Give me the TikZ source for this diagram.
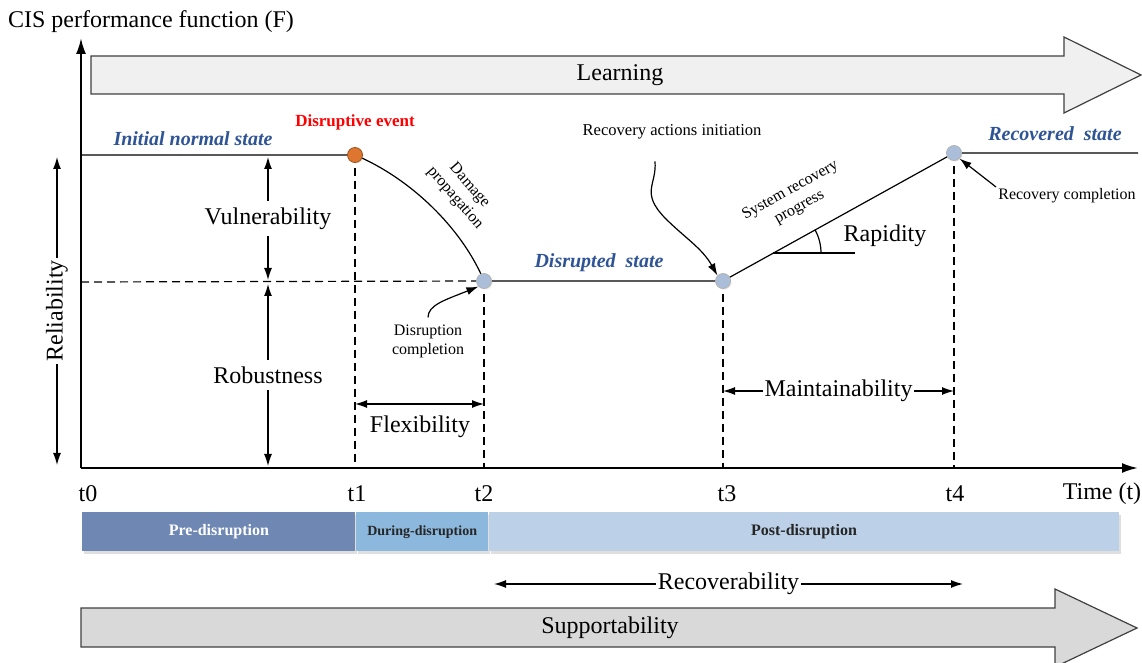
\documentclass[tikz,border=0pt]{standalone}
\usepackage{fontspec}
\setmainfont{Liberation Serif}
\usetikzlibrary{positioning,arrows.meta,shadows}

\definecolor{stateblue}{RGB}{47,84,150}
\definecolor{evorange}{RGB}{222,118,48}
\definecolor{dotblue}{RGB}{170,190,218}
\definecolor{preC}{RGB}{111,136,179}
\definecolor{duringC}{RGB}{139,184,220}
\definecolor{postC}{RGB}{188,209,232}

\begin{document}
\begin{tikzpicture}[x=0.5pt,y=-0.5pt,
	axis/.style = {line width=1.1pt, -{Latex[length=8pt,width=5pt]}},
	curve/.style = {line width=0.6pt},
	guide/.style = {line width=0.6pt, dash pattern=on 4pt off 2.5pt},
	dimarrow/.style = {line width=0.6pt, {Latex[length=6pt,width=4pt]}-{Latex[length=6pt,width=4pt]}},
	pointer/.style = {line width=0.6pt, -{Latex[length=6pt,width=4pt]}},
	dot/.style = {circle, inner sep=0pt, minimum size=7.5pt, draw=black!30, fill=dotblue,
		drop shadow={opacity=0.2, shadow xshift=0.5pt, shadow yshift=-0.5pt}},
	bigtxt/.style = {font=\fontsize{12}{14}\selectfont},
	smalltxt/.style = {font=\fontsize{8}{9.5}\selectfont, align=center},
	state/.style = {font=\fontsize{10}{12}\selectfont\bfseries\itshape, text=stateblue},
	phase/.style = {minimum height=19.5pt, inner sep=0pt, font=\fontsize{8}{9}\selectfont\bfseries,
		drop shadow={opacity=0.25, shadow xshift=0.8pt, shadow yshift=-1.2pt}},
	bigarrow/.style = {draw=black!75, line width=0.6pt}
	]
	\useasboundingbox (0,0) rectangle (1142,663);

	% main points of the curve
	\coordinate (o) at (81,468);
	\coordinate (ev) at (355,155);
	\coordinate (dc) at (484,281);
	\coordinate (ra) at (723,281);
	\coordinate (rc) at (954,153);

	% learning arrow
	\draw[bigarrow, fill=black!6] (91,56) -- (1064,56) -- (1064,37) -- (1141,75) -- (1064,113) -- (1064,94) -- (91,94) -- cycle;
	\node[bigtxt] (learn) at (620,75) {Learning};

	% axes
	\node[bigtxt] (ylabel) at (151,22) {CIS performance function (F)};
	\draw[axis] (o) -- (81,38);
	\draw[axis] (o) -- (1138,468);

	% dashed guides
	\draw[guide] (81,282) -- (dc);
	\draw[guide] (ev) -- (ev |- o);
	\draw[guide] (dc) -- (dc |- o);
	\draw[guide] (ra) -- (ra |- o);
	\draw[guide] (rc) -- (rc |- o);

	% performance curve
	\draw[curve] (81,155) -- (ev) .. controls (410,178) and (462,228) .. (dc) -- (ra) -- (rc) -- (1138,153);
	\node[dot, fill=evorange, draw=evorange!70!black] (evdot) at (ev) {};
	\node[dot] (dcdot) at (dc) {};
	\node[dot] (radot) at (ra) {};
	\node[dot] (rcdot) at (rc) {};

	% states and events
	\node[state] (initial) at (193,139) {Initial normal state};
	\node[font=\fontsize{8.5}{10}\selectfont\bfseries, text=red] (event) at (355,122) {Disruptive event};
	\node[smalltxt, rotate=-49] (damage) at (462,192) {Damage\\propagation};
	\node[state] (disrupted) at (599,263) {Disrupted\ \ state};
	\node[state] (recovered) at (1055,134) {Recovered\ \ state};
	\node[smalltxt, font=\fontsize{8.3}{9.5}\selectfont] (initiation) at (672,132) {Recovery actions initiation};
	\node[smalltxt, rotate=29] (progress) at (795,199) {System recovery\\progress};
	\node[smalltxt] (completion) at (1067,196) {Recovery completion};
	\node[smalltxt] (discomp) at (428,341) {Disruption\\completion};

	% pointers
	\draw[pointer] (initiation.south) ++(-17,15) .. controls (657,185) and (640,192) .. (665,218) .. controls (685,238) and (702,248) .. (radot.north west);
	\draw[pointer] (discomp.north) .. controls (428,305) and (445,300) .. (dcdot.south west);
	\draw[pointer] (996,187) -- (rcdot.south east);

	% rapidity angle
	\draw[curve] (773,253) -- (855,253);
	\draw[curve] (821,253) arc[start angle=0, end angle=-29, radius=48];
	\node[bigtxt] (rapidity) at (885,236) {Rapidity};

	% vertical measures
	\draw[dimarrow] (57,157) -- node[bigtxt, fill=white, rotate=90, inner sep=1pt] (reliab) {Reliability} (57,465);
	\draw[dimarrow] (268,157) -- node[bigtxt, fill=white, pos=0.5] (vuln) {Vulnerability} (268,280);
	\draw[dimarrow] (268,284) -- node[bigtxt, fill=white, pos=0.5] (robust) {Robustness} (268,466);

	% horizontal measures
	\draw[dimarrow] (355,404) -- (484,404);
	\node[bigtxt] (flex) at (420,427) {Flexibility};
	\draw[dimarrow] (723,391) -- node[bigtxt, fill=white, inner sep=1pt] (maint) {Maintainability} (954,391);

	% time labels
	\foreach \tx/\tn in {88/0, 357/1, 484/2, 727/3, 955/4}
		\node[bigtxt] (t\tn) at (\tx,494) {t\tn};
	\node[bigtxt] (time) at (1102,494) {Time (t)};

	% phases
	\node[phase, fill=preC, text=white, minimum width=136.5pt, anchor=west] (pre) at (82,532) {Pre-disruption};
	\node[phase, fill=duringC, text=black!85, minimum width=66pt, right=0pt of pre, font=\fontsize{7}{8}\selectfont\bfseries] (during) {During-disruption};
	\node[phase, fill=postC, text=black!85, minimum width=315pt, right=0pt of during] (post) {Post-disruption};

	% recoverability and supportability
	\draw[dimarrow] (494,584) -- node[bigtxt, fill=white, inner sep=1pt] (recov) {Recoverability} (963,584);
	\draw[bigarrow, fill=black!15] (81,608) -- (1055,608) -- (1055,589) -- (1137,628) -- (1055,667) -- (1055,647) -- (81,647) -- cycle;
	\node[bigtxt] (support) at (610,628) {Supportability};
\end{tikzpicture}
\end{document}
